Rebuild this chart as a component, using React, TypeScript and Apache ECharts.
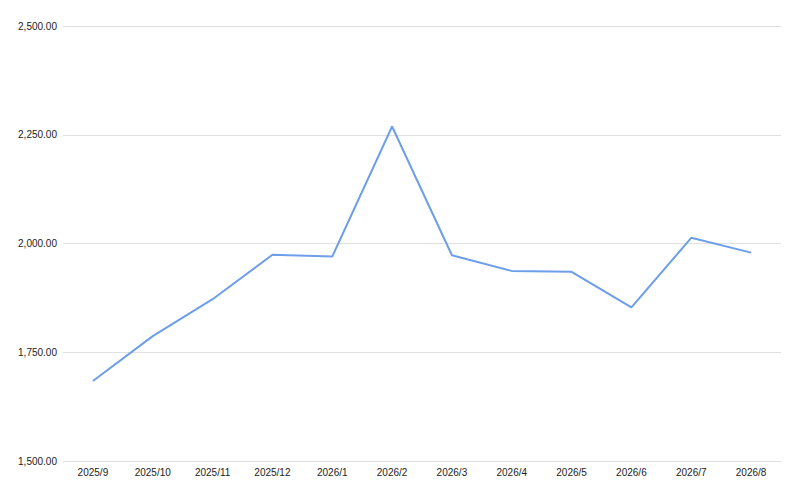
import React, { useEffect, useRef } from "react";
import * as echarts from "echarts";

const categories = ["2025/9", "2025/10", "2025/11", "2025/12", "2026/1", "2026/2", "2026/3", "2026/4", "2026/5", "2026/6", "2026/7", "2026/8"];
const values = [1684, 1787, 1872, 1974, 1970, 2269, 1973, 1937, 1935, 1853, 2013, 1979];
const yMin = 1500;
const yMax = 2500;
const yInterval = 250;

export default function App() {
  const ref = useRef<HTMLDivElement>(null);
  useEffect(() => {
    if (!ref.current) return;
    const chart = echarts.init(ref.current, null, { renderer: "svg" });
    chart.setOption({
      animation: false,
      backgroundColor: "#ffffff",
      grid: { left: 63, right: 19, top: 26, bottom: 31, containLabel: false },
      xAxis: {
        type: "category",
        data: categories,
        boundaryGap: true,
        axisLine: { show: true, lineStyle: { color: "#e0e0e0", width: 1 } },
        axisTick: { show: false },
        axisLabel: { color: "#222222", fontSize: 10, fontFamily: "Liberation Sans, Arial, sans-serif", margin: 6 },
      },
      yAxis: {
        type: "value",
        min: yMin,
        max: yMax,
        interval: yInterval,
        axisLine: { show: false },
        axisTick: { show: false },
        splitLine: { lineStyle: { color: "#e0e0e0", width: 1 } },
        axisLabel: {
          color: "#222222",
          fontSize: 10,
          fontFamily: "Liberation Sans, Arial, sans-serif",
          margin: 6,
          formatter: (v: number) => v.toLocaleString("en-US", { minimumFractionDigits: 2, maximumFractionDigits: 2 }),
        },
      },
      series: [
        {
          type: "line",
          data: values,
          symbol: "none",
          lineStyle: { color: "#6d9eeb", width: 2 },
          itemStyle: { color: "#6d9eeb" },
        },
      ],
    });
    return () => chart.dispose();
  }, []);
  return <div ref={ref} style={{ width: 800, height: 492, position: "absolute", left: 0, top: 0 }} />;
}
